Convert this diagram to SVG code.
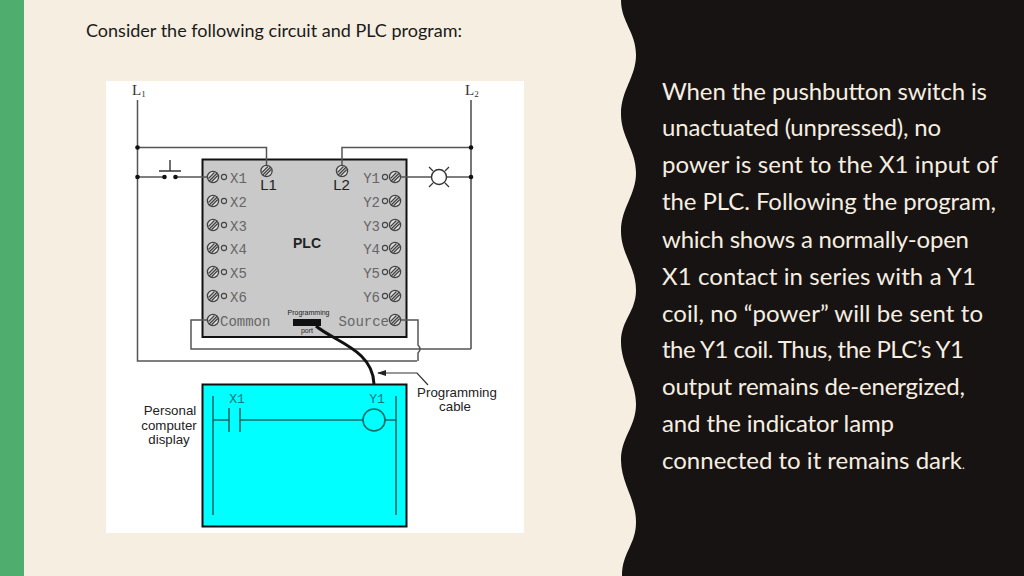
<svg xmlns="http://www.w3.org/2000/svg" width="1024" height="576" viewBox="0 0 1024 576">
<style>
.ui{font-family:Lato,"Liberation Sans",sans-serif}
.body{font-size:24px;fill:#f6eee0}
.w{fill:none;stroke:#555;stroke-width:1.5}
.dot{fill:#111}
.sa{font-family:"Liberation Sans",Arial,sans-serif;fill:#222}
.mono{font-family:"Liberation Mono",monospace;font-size:14px;fill:#666}
.t{font-family:"Liberation Mono",monospace;font-size:13px;fill:#0a7a7a}
.lad{fill:none;stroke:#0b6a6a;stroke-width:1.6}
.sl{stroke:#444;stroke-width:1.3}
.lug{fill:none;stroke:#444;stroke-width:1.1}
.ser{font-family:"Liberation Serif",serif;fill:#333}
</style>
<defs>
<g id="screw"><circle r="5.6" fill="#ddd" stroke="#444" stroke-width="1.3"/><path class="sl" d="M-4.500 1.500L1.500-4.500M-3.800 4L4-3.800M-1.500 4.700L4.700-1.500"/></g>
<marker id="ah" markerWidth="10" markerHeight="8" refX="1" refY="3" orient="auto" markerUnits="userSpaceOnUse"><path d="M9 0L0 3L9 6z" fill="#222"/></marker>
</defs>
<rect width="1024" height="576" fill="#f6eee0"/>
<rect width="24" height="576" fill="#4fad6e"/>
<path id="wave" fill="#171313" d="M621 0C621 22 636 32 636 55C636 77 621 90 621 114C621 137 636 150 636 173C636 195 621 208 621 231C621 254 636 267 636 290C636 312 621 320 621 342C621 365 636 381 636 404C636 427 621 437 621 460C621 483 636 499 636 522C636 545 622 552 622 576H1024V0Z"/>
<text class="ui" x="86" y="37" font-size="18" fill="#1a1a1a" textLength="376">Consider the following circuit and PLC program:</text>
<g class="ui body">
<text x="662" y="100" textLength="325">When the pushbutton switch is</text>
<text x="662" y="136" textLength="279">unactuated (unpressed), no</text>
<text x="662" y="173" textLength="336">power is sent to the X1 input of</text>
<text x="662" y="210" textLength="334">the PLC. Following the program,</text>
<text x="662" y="248" textLength="307">which shows a normally-open</text>
<text x="662" y="285" textLength="314">X1 contact in series with a Y1</text>
<text x="662" y="322" textLength="321">coil, no “power” will be sent to</text>
<text x="662" y="358" textLength="302">the Y1 coil. Thus, the PLC’s Y1</text>
<text x="662" y="395" textLength="303">output remains de-energized,</text>
<text x="662" y="432" textLength="232">and the indicator lamp</text>
<text x="662" y="469">connected to it remains dark<tspan font-size="12">.</tspan></text>
</g>
<rect x="106" y="81" width="418" height="452" fill="#fff"/>
<g id="plc">
<rect x="202.500" y="159.500" width="204" height="177.500" fill="#c9c9c9" stroke="#111" stroke-width="2"/>
<text class="sa" x="268.500" y="190" font-size="15" text-anchor="middle">L1</text>
<text class="sa" x="341.500" y="190" font-size="15" text-anchor="middle">L2</text>
<text class="sa" x="307" y="248" font-size="14" font-weight="700" text-anchor="middle">PLC</text>
<g class="lug"><circle cx="224" cy="177" r="2.600"/><circle cx="224" cy="201" r="2.600"/><circle cx="224" cy="225" r="2.600"/><circle cx="224" cy="248" r="2.600"/><circle cx="224" cy="272" r="2.600"/><circle cx="224" cy="296" r="2.600"/>
<circle cx="385" cy="177" r="2.600"/><circle cx="385" cy="201" r="2.600"/><circle cx="385" cy="225" r="2.600"/><circle cx="385" cy="248" r="2.600"/><circle cx="385" cy="272" r="2.600"/><circle cx="385" cy="296" r="2.600"/></g>
<g class="mono"><text x="230" y="183">X1</text><text x="230" y="207">X2</text><text x="230" y="231">X3</text><text x="230" y="254">X4</text><text x="230" y="278">X5</text><text x="230" y="302">X6</text><text x="220" y="326">Common</text></g>
<g class="mono" text-anchor="end"><text x="380" y="183">Y1</text><text x="380" y="207">Y2</text><text x="380" y="231">Y3</text><text x="380" y="254">Y4</text><text x="380" y="278">Y5</text><text x="380" y="302">Y6</text><text x="389" y="326">Source</text></g>
<rect x="293" y="319" width="28" height="7" fill="#111"/>
<text class="sa" x="308.500" y="315" font-size="7" text-anchor="middle">Programming</text>
<text class="sa" x="307" y="333" font-size="7" text-anchor="middle">port</text>
</g>
<g id="display">
<rect x="202.500" y="384.500" width="204" height="142" fill="#0ff" stroke="#111" stroke-width="2"/>
<path class="lad" d="M213 396V515M396 396V515M213 420H229M229 408V432M240 408V432M240 420H363M385 420H396"/>
<circle cx="374" cy="420" r="11" fill="none" stroke="#0b6a6a" stroke-width="1.600"/>
<text class="t" x="237" y="403" text-anchor="middle">X1</text>
<text class="t" x="377" y="403" text-anchor="middle">Y1</text>
</g>
<g id="connectors">
<path class="w" d="M137.500 100V361H417M137.500 147.500H266.500V170M137.500 177H164M175 177H207"/>
<path class="w" style="stroke:#777;stroke-width:2" d="M471 100V349"/>
<path class="w" d="M471 349H191V320H207M342 170V147.500H471M401 177H431.500M447 177H471"/>
<path class="w" d="M401 320H418V345Q422 349 418 353V361"/>
<path fill="none" stroke="#111" stroke-width="3" d="M316 326C335 342 373 350 374 384"/>
<path fill="none" stroke="#333" stroke-width="1.200" marker-start="url(#ah)" d="M378 373H417L428 385"/>
</g>
<g id="l1-bus"><text class="ser" x="132" y="95" font-size="15">L<tspan font-size="9" dy="2">1</tspan></text>
<circle class="dot" cx="137.500" cy="147.500" r="2.300"/><circle class="dot" cx="137.500" cy="177" r="2.300"/></g>
<g id="l2-bus"><text class="ser" x="465" y="95" font-size="15">L<tspan font-size="9" dy="2">2</tspan></text>
<circle class="dot" cx="471" cy="147.500" r="2.300"/><circle class="dot" cx="471" cy="177" r="2.300"/></g>
<g id="pushbutton"><circle class="dot" cx="164.500" cy="177" r="2.300"/><circle class="dot" cx="175.500" cy="177" r="2.300"/><path fill="none" stroke="#333" stroke-width="1.400" d="M159 171H181M170 171V160"/></g>
<g id="lamp"><circle cx="439" cy="177" r="7.500" fill="#fff" stroke="#333" stroke-width="1.400"/><path fill="none" stroke="#333" stroke-width="1.200" d="M429 167L433 171M449 167L445 171M429 187L433 183M449 187L445 183"/></g>
<g id="terminals">
<use href="#screw" x="266.500" y="171"/><use href="#screw" x="342" y="171"/>
<use href="#screw" x="213" y="177"/><use href="#screw" x="213" y="201"/><use href="#screw" x="213" y="225"/><use href="#screw" x="213" y="248"/><use href="#screw" x="213" y="272"/><use href="#screw" x="213" y="296"/><use href="#screw" x="213" y="320"/>
<use href="#screw" x="395" y="177"/><use href="#screw" x="395" y="201"/><use href="#screw" x="395" y="225"/><use href="#screw" x="395" y="248"/><use href="#screw" x="395" y="272"/><use href="#screw" x="395" y="296"/><use href="#screw" x="395" y="320"/>
</g>
<g id="display-label" class="sa" font-size="13.300" text-anchor="middle"><text x="170" y="415">Personal</text><text x="169" y="430">computer</text><text x="169" y="444">display</text></g>
<g id="cable-label" class="sa" font-size="13.300" text-anchor="middle"><text x="457" y="397">Programming</text><text x="455" y="411">cable</text></g>
</svg>
